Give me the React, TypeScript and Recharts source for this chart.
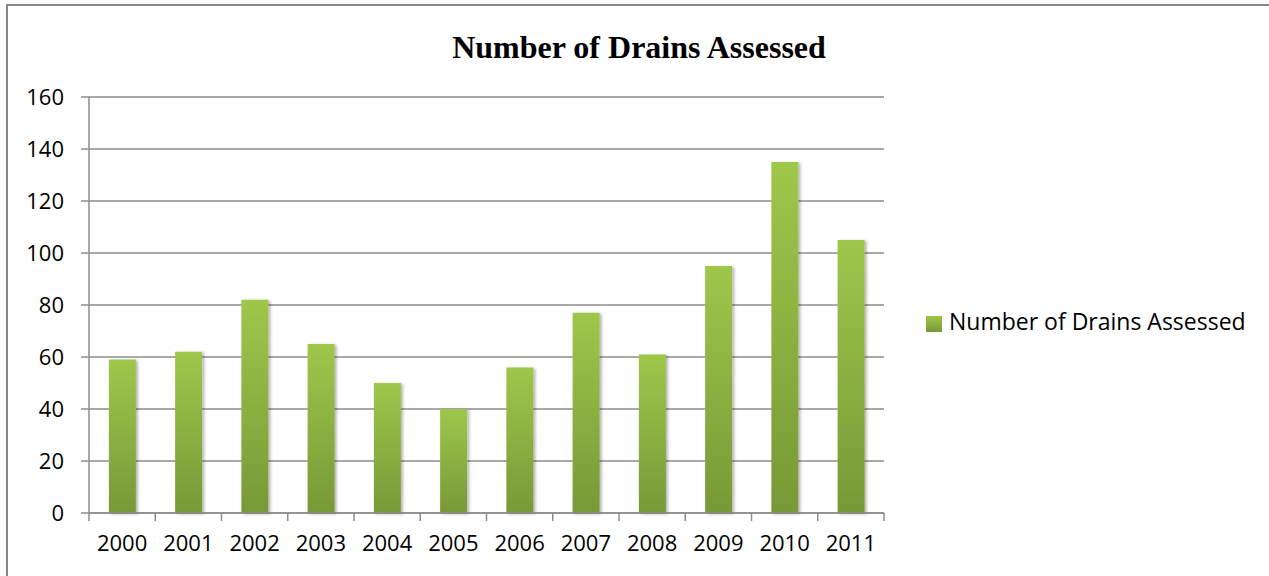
import React from "react";
import { BarChart, Bar, XAxis, YAxis, CartesianGrid, Legend } from "recharts";

// drains assessed per year
const years = ["2000", "2001", "2002", "2003", "2004", "2005", "2006", "2007", "2008", "2009", "2010", "2011"];
const drains = [59, 62, 82, 65, 50, 40, 56, 77, 61, 95, 135, 105];
const yTicks = [0, 20, 40, 60, 80, 100, 120, 140, 160];

const SERIES = "Number of Drains Assessed";
const data = years.map((year, i) => ({ year, drains: drains[i] }));

const gray = "#8c8c8c";
const font = "'Open Sans', 'DejaVu Sans', sans-serif";

const W = 1269;
const H = 576;
const LEGEND_W = 340;
const MARGIN = { top: 97, right: 385 - LEGEND_W, bottom: 23, left: 0 };
const Y_AXIS_W = 89;
const TICK_MARGIN = 22;
// width of one year column on the category axis
const BAND = (W - MARGIN.left - MARGIN.right - LEGEND_W - Y_AXIS_W) / years.length;

// year label plus the tick marks on the column boundaries
const YearTick = (props: any) => {
  const { x, y, payload, index } = props;
  const axisY = y - TICK_MARGIN;
  const marks = [x - BAND / 2];
  if (index === years.length - 1) marks.push(x + BAND / 2);
  return (
    <g>
      {marks.map((mx) => (
        <line key={mx} x1={mx} x2={mx} y1={axisY} y2={axisY + 8} stroke={gray} strokeWidth={1.5} />
      ))}
      <text x={x} y={y} dy="0.71em" textAnchor="middle" fill="#000" fontSize={22}>
        {payload.value}
      </text>
    </g>
  );
};

export default function App() {
  return (
    <div style={{ position: "absolute", left: 0, top: 0, width: W, height: H, overflow: "hidden", background: "#fff", fontFamily: font }}>
      <div style={{ position: "absolute", left: 6, top: 4, width: 1400, height: 700, border: "2px solid #878787" }} />
      <div
        style={{
          position: "absolute",
          left: 339,
          width: 600,
          top: 29,
          textAlign: "center",
          fontFamily: "'Liberation Serif', 'Times New Roman', serif",
          fontWeight: "bold",
          fontSize: 32,
        }}
      >
        Number of Drains Assessed
      </div>
      <BarChart
        width={W}
        height={H}
        data={data}
        // the vertical legend reserves its own width on the right
        margin={MARGIN}
        barCategoryGap="30%"
        style={{ position: "absolute", left: 0, top: 0 }}
      >
        <defs>
          <linearGradient id="barFill" x1="0" y1="0" x2="0" y2="1">
            <stop offset="0%" stopColor="#9ec74b" />
            <stop offset="100%" stopColor="#779937" />
          </linearGradient>
          <filter id="barShadow" x="-20%" y="-5%" width="150%" height="110%">
            <feDropShadow dx="2" dy="1" stdDeviation="1.5" floodColor="#000" floodOpacity="0.3" />
          </filter>
        </defs>
        <CartesianGrid vertical={false} stroke={gray} strokeWidth={1.5} />
        <XAxis
          dataKey="year"
          height={40}
          interval={0}
          stroke={gray}
          strokeWidth={1.5}
          tickLine={false}
          tickSize={0}
          tickMargin={TICK_MARGIN}
          tick={<YearTick />}
        />
        <YAxis
          width={Y_AXIS_W}
          domain={[0, 160]}
          ticks={yTicks}
          stroke={gray}
          strokeWidth={1.5}
          tickSize={8}
          tickMargin={17}
          tick={{ fill: "#000", fontSize: 22 }}
        />
        <Legend
          layout="vertical"
          align="right"
          verticalAlign="middle"
          iconType="square"
          iconSize={16}
          wrapperStyle={{ left: 926, top: 305, width: LEGEND_W, fontSize: 23 }}
          formatter={(value) => <span style={{ color: "#000", marginLeft: 3 }}>{value}</span>}
        />
        <Bar
          dataKey="drains"
          name={SERIES}
          fill="url(#barFill)"
          filter="url(#barShadow)"
          isAnimationActive={false}
        />
      </BarChart>
    </div>
  );
}
